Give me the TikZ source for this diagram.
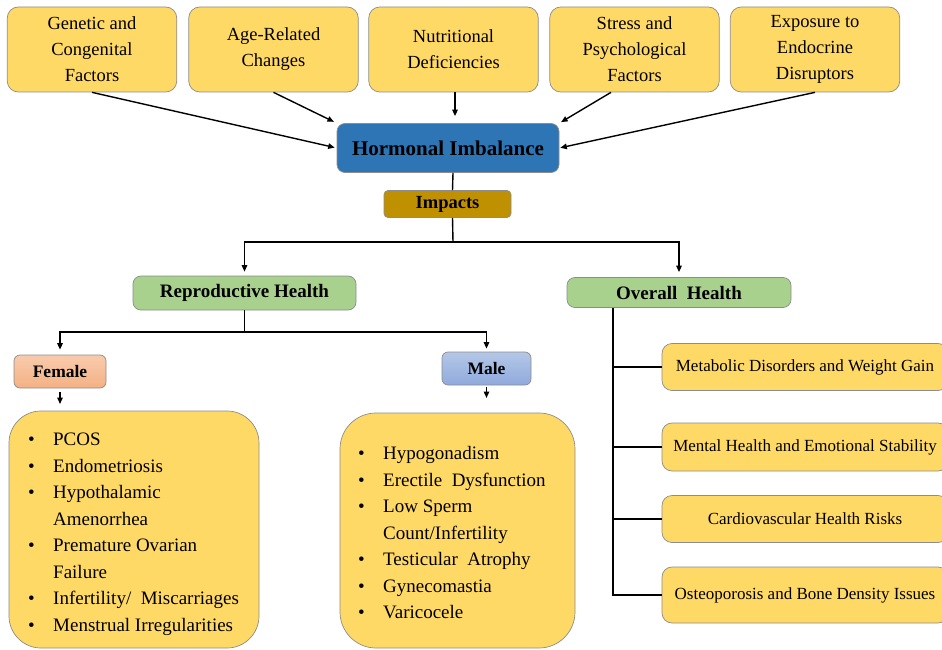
\documentclass[tikz,border=0pt]{standalone}
\usepackage{fontspec}
\setmainfont{Liberation Serif}
\usetikzlibrary{arrows.meta}
\definecolor{yfill}{HTML}{FFD966}
\definecolor{bfill}{HTML}{2E75B6}
\definecolor{gold}{HTML}{BF9000}
\definecolor{gfill}{HTML}{A9D18E}
\definecolor{ftop}{HTML}{F8CBAD}
\definecolor{fbot}{HTML}{F4B183}
\definecolor{mtop}{HTML}{B4C7E7}
\definecolor{mbot}{HTML}{8FAADC}
\definecolor{edge}{HTML}{8C8C8C}
\tikzset{
  box/.style={draw=edge, line width=0.7pt, rounded corners=8pt, inner sep=0pt, align=center},
  ybox/.style={box, fill=yfill},
  topbox/.style={ybox, rounded corners=11pt, minimum width=169.5pt, minimum height=85pt,
     font=\fontsize{18.5}{26}\selectfont},
  sidebox/.style={ybox, rounded corners=10pt, minimum width=286pt,
     font=\fontsize{17}{20}\selectfont},
  head/.style={box, font=\fontsize{19}{22}\selectfont\bfseries},
  listbox/.style={ybox},
  listtxt/.style={anchor=north west, inner sep=0pt, font=\fontsize{19}{26.5}\selectfont},
  arr/.style={-{Triangle[length=6.5pt,width=5.5pt]}, line width=1.4pt},
  ln/.style={line width=1.4pt}
}
\begin{document}
\begin{tikzpicture}[x=1pt,y=-1pt]
\useasboundingbox (0,0) rectangle (942,650);

% top cause boxes
\node[topbox] (gen) at (92,49.5) {Genetic and\\Congenital\\Factors};
\node[topbox] (age) at (273.5,49.5) {Age-Related\\Changes};
\node[topbox] (nut) at (453.5,49.5) {Nutritional\\Deficiencies};
\node[topbox] (str) at (634.5,49.5) {Stress and\\Psychological\\Factors};
\node[topbox] (exp) at (815,49.5) {Exposure to\\Endocrine\\Disruptors};

% central
\node[box, fill=bfill, minimum width=222pt, minimum height=49pt,
      font=\fontsize{21}{24}\selectfont\bfseries] (hor) at (448,148) {Hormonal Imbalance};
\node[box, fill=gold, rounded corners=4pt, minimum width=127pt, minimum height=27pt,
      font=\fontsize{18.5}{22}\selectfont\bfseries] (imp) at (447.5,204) {\raisebox{-1pt}{Impacts}};

\draw[arr, shorten >=2pt] (gen.south) -- (hor.west);
\draw[arr, shorten >=3pt] (age.south) -- (hor.north west);
\draw[arr, shorten >=7pt] ([xshift=1.5pt]nut.south) -- ([xshift=1.5pt]nut.south |- hor.north);
\draw[arr, shorten >=2pt] ([xshift=-23.5pt]str.south) -- (hor.north east);
\draw[arr, shorten >=1pt] (exp.south) -- (hor.east);

\coordinate (trunk) at (453,242);
\draw[ln] ([xshift=5pt]hor.south) -- ([xshift=5pt]imp.north);
\draw[ln] ([xshift=5pt]imp.south) -- (trunk);

% second level
\node[head, fill=gfill, minimum width=223pt, minimum height=34pt] (rep) at (244.5,293) {Reproductive Health};
\node[head, fill=gfill, minimum width=224pt, minimum height=30pt] (ovr) at (679,292.5) {Overall\ \ Health};

\draw[arr, shorten >=4pt] (trunk) -| (rep.north);
\draw[arr, shorten >=5pt] (trunk) -| (ovr.north);

% female / male
\node[box, top color=ftop, bottom color=fbot, rounded corners=6pt, minimum width=92pt, minimum height=33pt,
      font=\fontsize{17.5}{20}\selectfont\bfseries] (fem) at (60,371.5) {Female};
\node[box, top color=mtop, bottom color=mbot, rounded corners=6pt, minimum width=89pt, minimum height=33pt,
      font=\fontsize{17.5}{20}\selectfont\bfseries] (male) at (486.5,368.5) {Male};

\coordinate (rsplit) at (244.5,332);
\draw[ln] (rep.south) -- (rsplit);
\draw[arr, shorten >=5pt] (rsplit) -| (fem.north);
\draw[arr, shorten >=3pt] (rsplit) -| (male.north);

% list boxes
\node[listbox, rounded corners=32pt, minimum width=250pt, minimum height=237pt] (fbox) at (134,529.5) {};
\node[listbox, rounded corners=36pt, minimum width=235pt, minimum height=235pt] (mbox) at (457.5,530.5) {};

\coordinate (fend) at (60,404);
\coordinate (mend) at (486.5,398);
\draw[arr] ([yshift=-4pt]fem.south) -- (fend);
\draw[arr] ([yshift=-2pt]male.south) -- (mend);

\node[listtxt] (flist) at (28,426.8) {%
\begin{tabular}{@{}p{25pt}@{}l@{}}
\textbullet & PCOS\\
\textbullet & Endometriosis\\
\textbullet & Hypothalamic\\
            & Amenorrhea\\
\textbullet & Premature Ovarian\\
            & Failure\\
\textbullet & Infertility/\ \ Miscarriages\\
\textbullet & Menstrual Irregularities
\end{tabular}};

\node[listtxt] (mlist) at (358,440.8) {%
\begin{tabular}{@{}p{25pt}@{}l@{}}
\textbullet & Hypogonadism\\
\textbullet & Erectile\ \ Dysfunction\\
\textbullet & Low Sperm\\
            & Count/Infertility\\
\textbullet & Testicular\ \ Atrophy\\
\textbullet & Gynecomastia\\
\textbullet & Varicocele
\end{tabular}};

% overall health branches
\begin{scope}
\clip (0,0) rectangle (942,650);
\node[sidebox, minimum height=47pt] (meta) at (805,367) {Metabolic Disorders and Weight Gain};
\node[sidebox, minimum height=48pt] (ment) at (805,447) {Mental Health and Emotional Stability};
\node[sidebox, minimum height=47pt] (card) at (805,519) {Cardiovascular Health Risks};
\node[sidebox, minimum height=56pt] (oste) at (805,595) {Osteoporosis and Bone Density Issues};
\end{scope}

\coordinate (ovtop) at (613,307.5);
\draw[ln] (ovtop) |- (oste.west);
\draw[ln] (ovtop |- meta.west) -- (meta.west);
\draw[ln] (ovtop |- ment.west) -- (ment.west);
\draw[ln] (ovtop |- card.west) -- (card.west);
\end{tikzpicture}
\end{document}
